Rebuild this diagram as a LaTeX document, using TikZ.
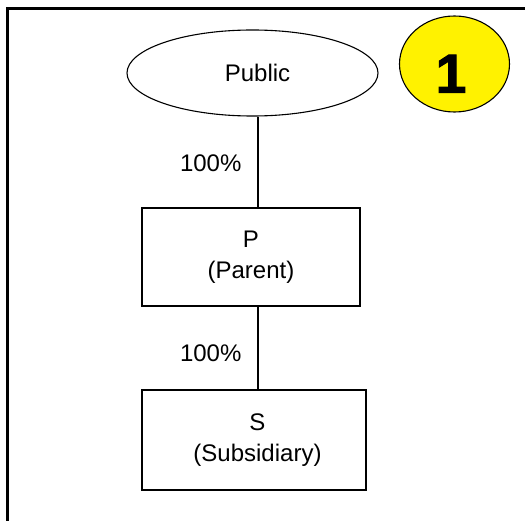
\documentclass[tikz,border=0pt]{standalone}
\usepackage{fontspec}
\setmainfont{Liberation Sans}
\newfontfamily\heavyfont[FakeBold=2]{Liberation Sans Bold}
\usetikzlibrary{shapes.geometric}
\begin{document}
\begin{tikzpicture}[x=1pt,y=-1pt,
  every node/.style={font=\fontsize{24}{31}\selectfont, inner sep=0pt},
  entity/.style={draw=black, line width=1.1pt, rectangle, align=center},
  oval/.style={draw=black, line width=1.1pt, ellipse},
  badge/.style={draw=black, line width=1.1pt, ellipse, fill=yellow},
  link/.style={draw=black, line width=1.1pt},
  frameline/.style={draw=black, line width=3pt}
]
\useasboundingbox (0,0) rectangle (525,521);
% frame
\coordinate (fa) at (7.5,521);
\coordinate (fb) at (7.5,8.5);
\coordinate (fc) at (525,8.5);
\draw[frameline] (fa) -- (fb) -- (fc);
% badge
\node[badge, minimum width=110, minimum height=96] (badge) at (454.5,64) {};
\node[anchor=base, font=\fontsize{55}{60}\heavyfont] (one) at (451,92.7) {1};
% public
\node[oval, minimum width=251, minimum height=86] (pub) at (252.5,73) {};
\node (pubtext) at (257.5,73) {Public};
% parent
\node[entity, minimum width=218, minimum height=98] (par) at (251,257) {P\\(Parent)};
% subsidiary
\node[entity, minimum width=224, minimum height=100, text width=224, align=center] (sub) at (254,440) {\hspace*{7pt}S\\\hspace*{7pt}(Subsidiary)};
% connectors
\coordinate (cx) at (258,0);
\draw[link] (pub.south -| cx) -- (par.north -| cx);
\draw[link] (par.south -| cx) -- (sub.north -| cx);
% labels
\node[anchor=base] (l1) at (210.7,171.7) {100\%};
\node[anchor=base] (l2) at (210.7,361.7) {100\%};
\end{tikzpicture}
\end{document}
